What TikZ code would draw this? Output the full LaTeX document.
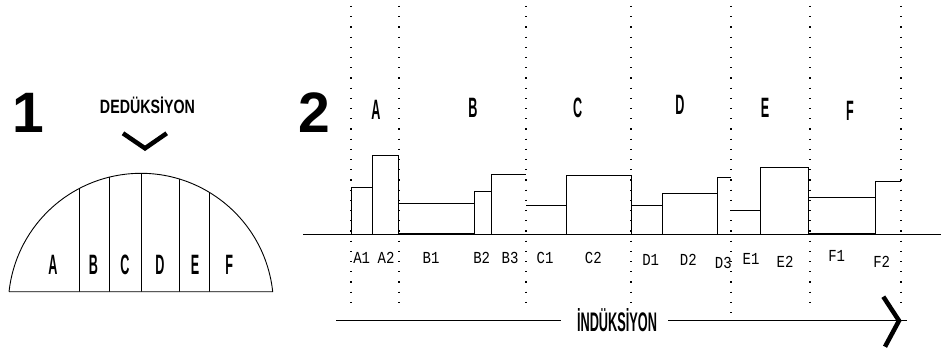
\documentclass[tikz,border=0pt]{standalone}
\usepackage{fontspec}
\setmainfont{Liberation Sans}
\newfontfamily\lblmono{Liberation Mono}
\newcommand\cndtxt[1]{\scalebox{0.45}[1]{#1}}
\newcommand\monotxt[1]{\scalebox{1}[1.2]{\lblmono #1}}
\begin{document}
\begin{tikzpicture}[x=1pt,y=1pt,
  bar/.style={line width=0.9pt},
  dotline/.style={line width=1.2pt, dash pattern=on 1.2pt off 9pt},
  chev/.style={line width=4.5pt, line join=miter},
  biglbl/.style={inner sep=0pt, font=\fontsize{28}{28}\selectfont\bfseries},
  numlbl/.style={inner sep=0pt, anchor=base, font=\fontsize{57}{57}\selectfont\bfseries},
  smalllbl/.style={inner sep=0pt, font=\fontsize{14}{14}\selectfont}]
\useasboundingbox (0,0) rectangle (941,354);

% ---------- Part 1 ----------
\node[numlbl] (n1) at (28,222) {1};
\node[inner sep=0pt, anchor=base, font=\bfseries] (ded) at (147.5,240.7) {\resizebox{95pt}{16.5pt}{DEDÜKSİYON}};
\draw[chev] (123,220.7) -- (145,205.7) -- (166.7,220.7);

\draw[bar] (9,62.3) -- (272.7,62.3) arc[start angle=6.15, end angle=173.85, radius=132.6] -- cycle;
\begin{scope}
  \clip (9,62.3) -- (272.7,62.3) arc[start angle=6.15, end angle=173.85, radius=132.6] -- cycle;
  \foreach \x in {79.3,109.3,141,179,209} \draw[bar] (\x,62.3) -- (\x,200);
\end{scope}
\node[biglbl] (aA) at (53,89) {\cndtxt{A}};
\node[biglbl] (aB) at (93.3,89) {\cndtxt{B}};
\node[biglbl] (aC) at (125,89) {\cndtxt{C}};
\node[biglbl] (aD) at (160,89) {\cndtxt{D}};
\node[biglbl] (aE) at (195,89) {\cndtxt{E}};
\node[biglbl] (aF) at (229.3,89) {\cndtxt{F}};

% ---------- Part 2 ----------
\node[numlbl] (n2) at (314,222) {2};

% dotted guides
\foreach \x in {351,399,526,631,810,901} \draw[dotline] (\x,348) -- (\x,46);
\draw[dotline] (731,348) -- (731,33.3);

% axis
\draw[bar] (303,119.5) -- (941,119.5);

% bars
\draw[bar] (351,119.5) rectangle (372.7,166.3);
\draw[bar] (372.7,119.5) rectangle (398,199);
\draw[bar] (399,150.7) -- (474.3,150.7) -- (474.3,119.5);
\draw[line width=2pt] (399,120.2) -- (474.3,120.2);
\draw[bar] (474.3,119.5) rectangle (491,163);
\draw[bar] (491,119.5) |- (526,180);
\draw[bar] (526,148.7) -- (566,148.7) -- (566,119.5);
\draw[bar] (566,119.5) |- (631,178.3) -- (631,119.5);
\draw[bar] (631,148.7) -- (662,148.7) -- (662,119.5);
\draw[bar] (662,119.5) rectangle (717.7,160.7);
\draw[bar] (717.7,119.5) |- (731,176.3);
\draw[bar] (731,143.3) -- (760,143.3) -- (760,119.5);
\draw[bar] (760,119.5) rectangle (808.5,186.7);
\draw[bar] (808.5,119.5) rectangle (875.3,157);
\draw[line width=1.6pt] (808.5,119.5) -- (808.5,157);
\draw[line width=2pt] (808.5,120.2) -- (875.3,120.2);
\draw[bar] (875.3,119.5) |- (901,173);

% top labels
\node[biglbl] (tA) at (376,244) {\cndtxt{A}};
\node[biglbl] (tB) at (473,246) {\cndtxt{B}};
\node[biglbl] (tC) at (577.7,246) {\cndtxt{C}};
\node[biglbl] (tD) at (680,249) {\cndtxt{D}};
\node[biglbl] (tE) at (765,246) {\cndtxt{E}};
\node[biglbl] (tF) at (850,243) {\cndtxt{F}};

% bottom labels
\node[smalllbl] (A1) at (361.7,95.7) {\monotxt{A1}};
\node[smalllbl] (A2) at (386,95.7) {\monotxt{A2}};
\node[smalllbl] (B1) at (431,95.7) {\monotxt{B1}};
\node[smalllbl] (B2) at (481.7,95.7) {\monotxt{B2}};
\node[smalllbl] (B3) at (510,95.7) {\monotxt{B3}};
\node[smalllbl] (C1) at (545,95.7) {\monotxt{C1}};
\node[smalllbl] (C2) at (593.3,95.7) {\monotxt{C2}};
\node[smalllbl] (D1) at (650.7,94) {\monotxt{D1}};
\node[smalllbl] (D2) at (688.3,94) {\monotxt{D2}};
\node[smalllbl] (D3) at (723.3,91.3) {\monotxt{D3}};
\node[smalllbl] (E1) at (751,95.3) {\monotxt{E1}};
\node[smalllbl] (E2) at (785,92) {\monotxt{E2}};
\node[smalllbl] (F1) at (836.7,98.3) {\monotxt{F1}};
\node[smalllbl] (F2) at (881.7,92) {\monotxt{F2}};

% induction arrow
\node[inner sep=0pt, anchor=base, font=\bfseries] (ind) at (617,22.3) {\resizebox{80pt}{23pt}{İNDÜKSİYON}};
\coordinate (il) at (336,33.3);
\coordinate (ir) at (907,33.3);
\draw[bar] (il) -- (561,33.3);
\draw[bar] (668,33.3) -- (ir);
\draw[chev] (883.3,57.3) -- (899,33.3) -- (885,7.3);
\end{tikzpicture}
\end{document}
